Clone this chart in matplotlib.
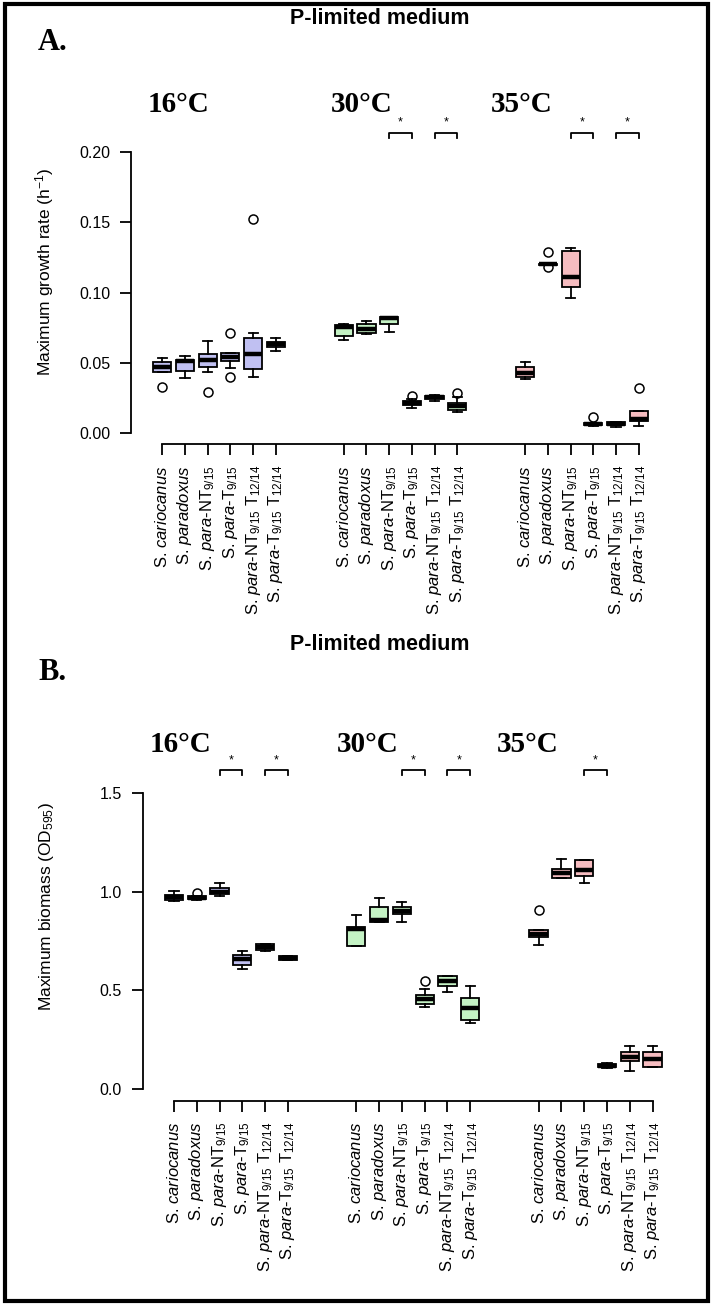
import numpy as np
import matplotlib.pyplot as plt
from matplotlib.patches import Rectangle

plt.rcParams['font.family'] = 'Liberation Sans'
plt.rcParams['mathtext.fontset'] = 'custom'
plt.rcParams['mathtext.rm'] = 'Liberation Sans'
plt.rcParams['mathtext.it'] = 'Liberation Sans:italic'
plt.rcParams['mathtext.bf'] = 'Liberation Sans:bold'

W, H = 713, 1305

temps = ["16°C", "30°C", "35°C"]
strains = ["S. $\\mathit{cariocanus}$",
           "S. $\\mathit{paradoxus}$",
           "S. $\\mathit{para}$-NT$_{9/15}$",
           "S. $\\mathit{para}$-T$_{9/15}$",
           "S. $\\mathit{para}$-NT$_{9/15}$ T$_{12/14}$",
           "S. $\\mathit{para}$-T$_{9/15}$ T$_{12/14}$"]
group_colors = ["#C0C0F2", "#C4F2C4", "#F6BCC0"]

# A. maximum growth rate (h-1), 16 / 30 / 35 °C, six strains each
rate_lo  = [.0436, .0395, .0438, .0462, .0402, .0587,
            .0664, .0707, .0719, .0178, .0232, .0154,
            .0384, .1195, .0965, .0052, .0043, .0052]
rate_q1  = [.0438, .0445, .0473, .0516, .0454, .0615,
            .0693, .0715, .0778, .0202, .0240, .0166,
            .0403, .1198, .1039, .0055, .0057, .0090]
rate_med = [.0473, .0516, .0521, .0544, .0561, .0632,
            .0754, .0742, .0818, .0218, .0254, .0194,
            .0427, .1203, .1115, .0062, .0066, .0100]
rate_q3  = [.0504, .0520, .0561, .0568, .0675, .0651,
            .0771, .0776, .0825, .0232, .0268, .0213,
            .0470, .1207, .1300, .0071, .0076, .0159]
rate_hi  = [.0537, .0551, .0658, .0568, .0710, .0675,
            .0775, .0795, .0825, .0240, .0273, .0254,
            .0510, .1210, .1316, .0075, .0076, .0159]
rate_out = [[.0331], [], [.0296], [.0715, .0402], [.1527], [],
            [], [], [], [.0268], [], [.0285],
            [], [.1293, .1185], [], [.0114], [], [.0325]]

# B. maximum biomass (OD595)
bio_lo  = [.954, .959, .975, .607, .700, .653,
           .725, .844, .847, .417, .493, .336,
           .729, 1.068, 1.042, .105, .089, .113]
bio_q1  = [.959, .960, .985, .629, .702, .655,
           .725, .848, .886, .429, .519, .347,
           .768, 1.070, 1.081, .110, .143, .113]
bio_med = [.971, .966, 1.000, .658, .717, .664,
           .810, .858, .903, .454, .547, .412,
           .785, 1.095, 1.107, .118, .163, .150]
bio_q3  = [.983, .976, 1.017, .678, .734, .675,
           .822, .920, .924, .475, .573, .458,
           .807, 1.115, 1.161, .125, .185, .185]
bio_hi  = [1.005, .976, 1.044, .700, .734, .675,
           .881, .966, .946, .505, .573, .522,
           .807, 1.166, 1.161, .132, .216, .216]
bio_out = [[], [.993], [], [], [], [],
           [], [], [], [.547], [], [],
           [.907], [], [], [], [], []]

# significant pairs: (temperature group, first strain of the pair)
rate_sig = [(1, 2), (1, 4), (2, 2), (2, 4)]
bio_sig = [(0, 2), (0, 4), (1, 2), (1, 4), (2, 2)]


def px(x, y):
    return x / W, 1 - y / H


fig = plt.figure(figsize=(W / 100, H / 100), dpi=100)


def panel(left, right, top, bottom, ylim, yticks, yticklabels,
          lo, q1, med, q3, hi, out, sig, sig_y, leg, star_y):
    ax = fig.add_axes([left / W, 1 - bottom / H, (right - left) / W, (bottom - top) / H])
    pos = [g * 8 + i + 1 for g in range(3) for i in range(6)]
    stats = [dict(whislo=a, q1=b, med=c, q3=d, whishi=e, fliers=f)
             for a, b, c, d, e, f in zip(lo, q1, med, q3, hi, out)]
    bp = ax.bxp(stats, positions=pos, widths=0.8, capwidths=0.4, patch_artist=True,
                boxprops=dict(edgecolor='black', linewidth=1.3),
                medianprops=dict(color='black', linewidth=3.2, solid_capstyle='butt'),
                whiskerprops=dict(color='black', linewidth=1.3),
                capprops=dict(color='black', linewidth=1.3),
                flierprops=dict(marker='o', markerfacecolor='none', markeredgecolor='black',
                                markersize=6.5, markeredgewidth=1.1))
    for k, patch in enumerate(bp['boxes']):
        patch.set_facecolor(group_colors[k // 6])
    ax.set_xlim(-0.38, 23.38)
    ax.set_ylim(*ylim)
    ax.set_xticks(pos)
    ax.set_xticklabels(strains * 3, rotation=90, fontsize=12)
    ax.set_yticks(yticks)
    ax.set_yticklabels(yticklabels, fontsize=11.5)
    ax.tick_params(axis='both', length=8, width=1.3, pad=7)
    for s in ['top', 'right']:
        ax.spines[s].set_visible(False)
    ax.spines['left'].set_bounds(yticks[0], yticks[-1])
    ax.spines['bottom'].set_bounds(1, 22)
    ax.spines['left'].set_linewidth(1.3)
    ax.spines['bottom'].set_linewidth(1.3)
    ax.patch.set_alpha(0)
    for g, i in sig:
        x0 = g * 8 + i + 1
        x1 = x0 + 1
        ax.plot([x0, x0, x1, x1], [sig_y - leg, sig_y, sig_y, sig_y - leg],
                color='black', lw=1.3, clip_on=False)
        ax.text((x0 + x1) / 2, star_y, "*", ha='center', va='center',
                fontsize=9, clip_on=False)
    return ax


panel(131, 670, 141, 444.4, (-0.008, 0.208), [0, 0.05, 0.10, 0.15, 0.20],
      ["0.00", "0.05", "0.10", "0.15", "0.20"],
      rate_lo, rate_q1, rate_med, rate_q3, rate_hi, rate_out,
      rate_sig, 0.2135, 0.0035, 0.2215)
panel(142.5, 684, 781, 1100.7, (-0.06, 1.56), [0, 0.5, 1.0, 1.5],
      ["0.0", "0.5", "1.0", "1.5"],
      bio_lo, bio_q1, bio_med, bio_q3, bio_hi, bio_out,
      bio_sig, 1.616, 0.025, 1.665)

# headers
for y_title, y_letter, y_temp, letter, tx in [(18, 42, 105, "A.", [178, 362, 522]),
                                              (645, 672, 745, "B.", [180, 368, 528])]:
    fig.text(*px(380, y_title), "P-limited medium", ha='center', va='center',
             fontsize=15.5, fontweight='bold')
    fig.text(*px(38, y_letter), letter, ha='left', va='center', fontsize=22,
             fontweight='bold', family='Liberation Serif')
    for t, x in zip(temps, tx):
        fig.text(*px(x, y_temp), t, ha='center', va='center', fontsize=21,
                 fontweight='bold', family='Liberation Serif')

fig.text(*px(45, 272), "Maximum growth rate (h$^{-1}$)", rotation=90,
         ha='center', va='center', fontsize=12.5)
fig.text(*px(47, 907), "Maximum biomass (OD$_{595}$)", rotation=90,
         ha='center', va='center', fontsize=12.5)

fig.patches.append(Rectangle(px(5, 1301), 703 / W, 1297 / H, transform=fig.transFigure,
                             fill=False, edgecolor='black', linewidth=3))

fig.savefig("out.png", dpi=100)
